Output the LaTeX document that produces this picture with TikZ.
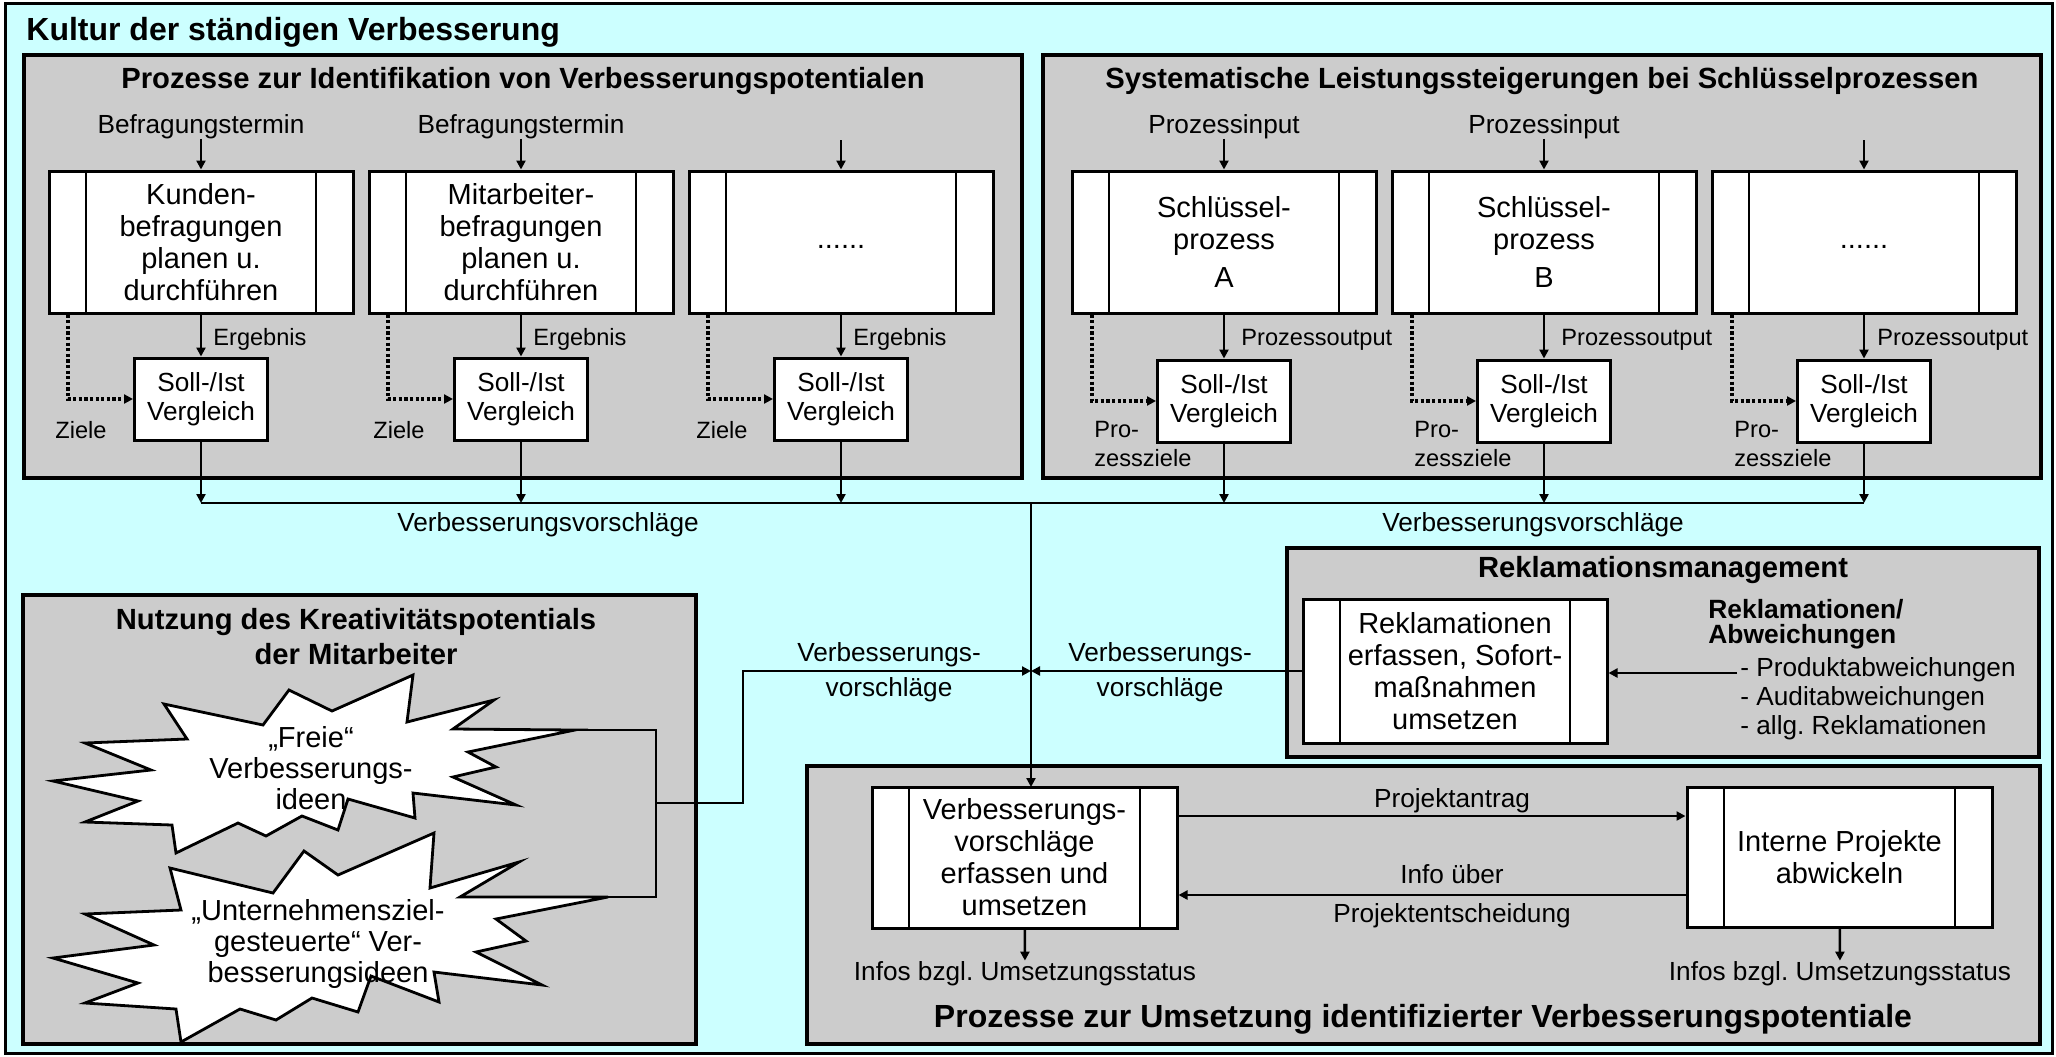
\documentclass[tikz,border=0pt]{standalone}
\usepackage{fontspec}
\setmainfont{Liberation Sans}
\usetikzlibrary{arrows.meta}
\definecolor{hellcyan}{RGB}{204,255,255}
\definecolor{hellgrau}{RGB}{204,204,204}
\frenchspacing
\tikzset{
  rahmen/.style={draw,line width=1.6pt,fill=hellgrau},
  stern/.style={draw,line width=1.4pt,fill=white},
  prozess/.style={draw,line width=1.5pt,fill=white,inner sep=0pt,align=center,
    minimum width=152pt,minimum height=71pt,font=\fontsize{14.5pt}{16pt}\selectfont,
    path picture={\draw[line width=1.2pt]
      ([xshift=18.5pt]path picture bounding box.north west) -- ([xshift=18.5pt]path picture bounding box.south west)
      ([xshift=-18.5pt]path picture bounding box.north east) -- ([xshift=-18.5pt]path picture bounding box.south east);}},
  vergleich/.style={draw,line width=1.5pt,fill=white,inner sep=0pt,align=center,
    minimum width=66.5pt,minimum height=41pt,font=\fontsize{13.1pt}{14.5pt}\selectfont},
  sterntext/.style={inner sep=0pt,align=center,font=\fontsize{14.5pt}{15.5pt}\selectfont},
  titel/.style={inner sep=0pt,font=\fontsize{16pt}{18pt}\selectfont\bfseries},
  kopf/.style={inner sep=0pt,align=center,font=\fontsize{14.6pt}{17.5pt}\selectfont\bfseries},
  lbl/.style={inner sep=0pt,font=\fontsize{13.1pt}{17.5pt}\selectfont},
  lblk/.style={inner sep=0pt,align=left,font=\fontsize{11.8pt}{14.5pt}\selectfont},
  linie/.style={line width=1.2pt},
  pfeil/.style={line width=1.2pt,-{Triangle[length=4.5pt,width=4.5pt]}},
  ziellinie/.style={line width=1.6pt,dash pattern=on 1.6pt off 1.2pt,-{Triangle[length=4.5pt,width=4.5pt]}}
}
\begin{document}
\frenchspacing
\begin{tikzpicture}[x=0.5pt,y=-0.5pt]
\useasboundingbox (0,0) rectangle (2056,1056);
\draw[line width=1.5pt,fill=hellcyan] (5,3) rectangle (2052,1053);
\node[titel,anchor=base west] (titel) at (26,40) {Kultur der ständigen Verbesserung};

% Prozesse zur Identifikation
\draw[rahmen] (24,55) rectangle (1022,478);
\node[kopf,anchor=base] (kopfA) at (523,88) {Prozesse zur Identifikation von Verbesserungspotentialen};
\node[lbl,anchor=base] (termin1) at (201,133) {Befragungstermin};
\node[lbl,anchor=base] (termin2) at (521,133) {Befragungstermin};
\coordinate (termin3) at (841,140);
\node[prozess] (ident1) at (201,242) {Kunden-\\befragungen\\planen u.\\durchführen};
\node[prozess] (ident2) at (521,242) {Mitarbeiter-\\befragungen\\planen u.\\durchführen};
\node[prozess] (ident3) at (841,242) {\strut......};
\node[vergleich] (vgl1) at (201,399) {Soll-/Ist\\Vergleich};
\node[vergleich] (vgl2) at (521,399) {Soll-/Ist\\Vergleich};
\node[vergleich] (vgl3) at (841,399) {Soll-/Ist\\Vergleich};
\node[lblk,anchor=base west] (erg1) at (213,345) {Ergebnis};
\node[lblk,anchor=base west] (erg2) at (533,345) {Ergebnis};
\node[lblk,anchor=base west] (erg3) at (853,345) {Ergebnis};
\node[lblk,anchor=base] (ziele1) at (81,438) {Ziele};
\node[lblk,anchor=base] (ziele2) at (399,438) {Ziele};
\node[lblk,anchor=base] (ziele3) at (722,438) {Ziele};
\draw[pfeil] (termin1) -- (ident1);
\draw[pfeil] (termin2) -- (ident2);
\draw[pfeil] (termin3) -- (ident3);
\draw[pfeil] (ident1) -- (vgl1);
\draw[pfeil] (ident2) -- (vgl2);
\draw[pfeil] (ident3) -- (vgl3);
\draw[ziellinie] ([xshift=-66.5pt]ident1.south) |- (vgl1);
\draw[ziellinie] ([xshift=-66.5pt]ident2.south) |- (vgl2);
\draw[ziellinie] ([xshift=-66.5pt]ident3.south) |- (vgl3);

% Schluesselprozesse
\draw[rahmen] (1043,55) rectangle (2041,478);
\node[kopf,anchor=base] (kopfB) at (1542,88) {Systematische Leistungssteigerungen bei Schlüsselprozessen};
\node[lbl,anchor=base] (input1) at (1224,133) {Prozessinput};
\node[lbl,anchor=base] (input2) at (1544,133) {Prozessinput};
\coordinate (input3) at (1864,140);
\node[prozess] (schl1) at (1224,242) {Schlüssel-\\prozess\\[3pt]A};
\node[prozess] (schl2) at (1544,242) {Schlüssel-\\prozess\\[3pt]B};
\node[prozess] (schl3) at (1864,242) {\strut......};
\node[vergleich] (svgl1) at (1224,401) {Soll-/Ist\\Vergleich};
\node[vergleich] (svgl2) at (1544,401) {Soll-/Ist\\Vergleich};
\node[vergleich] (svgl3) at (1864,401) {Soll-/Ist\\Vergleich};
\node[lblk,anchor=base west] (output1) at (1241,345) {Prozessoutput};
\node[lblk,anchor=base west] (output2) at (1561,345) {Prozessoutput};
\node[lblk,anchor=base west] (output3) at (1877,345) {Prozessoutput};
\node[lblk,anchor=west] (pziel1) at (1094,444) {Pro-\\zessziele};
\node[lblk,anchor=west] (pziel2) at (1414,444) {Pro-\\zessziele};
\node[lblk,anchor=west] (pziel3) at (1734,444) {Pro-\\zessziele};
\draw[pfeil] (input1) -- (schl1);
\draw[pfeil] (input2) -- (schl2);
\draw[pfeil] (input3) -- (schl3);
\draw[pfeil] (schl1) -- (svgl1);
\draw[pfeil] (schl2) -- (svgl2);
\draw[pfeil] (schl3) -- (svgl3);
\draw[ziellinie] ([xshift=-66pt]schl1.south) |- (svgl1);
\draw[ziellinie] ([xshift=-66pt]schl2.south) |- (svgl2);
\draw[ziellinie] ([xshift=-66pt]schl3.south) |- (svgl3);

% Sammelleitung
\coordinate (sammel) at (1031,503);
\draw[linie] (vgl1 |- sammel) -- (svgl3 |- sammel);
\draw[pfeil] (vgl1) -- (vgl1 |- sammel);
\draw[pfeil] (vgl2) -- (vgl2 |- sammel);
\draw[pfeil] (vgl3) -- (vgl3 |- sammel);
\draw[pfeil] (svgl1) -- (svgl1 |- sammel);
\draw[pfeil] (svgl2) -- (svgl2 |- sammel);
\draw[pfeil] (svgl3) -- (svgl3 |- sammel);
\node[lbl,anchor=base] (vorschlag1) at (548,531) {Verbesserungsvorschläge};
\node[lbl,anchor=base] (vorschlag2) at (1533,531) {Verbesserungsvorschläge};

% Reklamationsmanagement
\draw[rahmen] (1287,548) rectangle (2039,757);
\node[kopf,anchor=base] (kopfR) at (1663,577) {Reklamationsmanagement};
\node[prozess,minimum height=72pt] (rek) at (1455,671) {Reklamationen\\erfassen, Sofort-\\maßnahmen\\umsetzen};
\node[lbl,align=left,anchor=west,font=\fontsize{13.2pt}{12.5pt}\selectfont\bfseries] (rekart) at (1708,624) {Reklamationen/\\Abweichungen};
\node[lbl,align=left,anchor=west,font=\fontsize{13.1pt}{14.5pt}\selectfont] (rekliste) at (1740,699) {- Produktabweichungen\\- Auditabweichungen\\- allg. Reklamationen};
\coordinate (rekein) at (1737,673);
\draw[pfeil] (rekein) -- (rekein -| rek.east);
\draw[pfeil] (rek.west) -- (rek.west -| sammel);
\node[lbl,align=center] (vorschlagR) at (1160,672) {Verbesserungs-\\vorschläge};

% Kreativitaetspotential
\draw[rahmen] (23,595) rectangle (696,1044);
\node[kopf] (kopfN) at (356,637) {Nutzung des Kreativitätspotentials\\der Mitarbeiter};
\draw[stern] (164,704) -- (263,725) -- (289,690) -- (332,711) -- (413,675) -- (407,722) -- (494,700) -- (453,729) -- (575,730) -- (468,752) -- (496,767) -- (453,777) -- (516,805) -- (413,793) -- (415,818) -- (348,799) -- (338,830) -- (302,816) -- (266,836) -- (238,823) -- (176,853) -- (172,825) -- (85,822) -- (138,801) -- (53,781) -- (151,770) -- (85,743) -- (187,739) -- cycle;
\draw[stern] (170,868) -- (273,893) -- (304,851) -- (338,875) -- (434,833) -- (430,888) -- (519,862) -- (460,897) -- (608,897) -- (496,919) -- (526,941) -- (476,952) -- (542,985) -- (434,972) -- (439,1002) -- (371,976) -- (358,1012) -- (312,998) -- (276,1020) -- (240,1009) -- (181,1042) -- (176,1009) -- (85,1003) -- (138,983) -- (53,958) -- (154,945) -- (85,914) -- (181,910) -- cycle;
\node[sterntext] (freie) at (311,768) {„Freie“\\Verbesserungs-\\ideen};
\node[sterntext] (zielgest) at (318,944) {„Unternehmensziel-\\gesteuerte“ Ver-\\besserungsideen};
\coordinate (spitze1) at (575,730);
\coordinate (spitze2) at (608,897);
\coordinate (knoten) at (656,803);
\draw[linie] (spitze1) -| (knoten) |- (spitze2);
\draw[pfeil] (knoten) -- ++(87,0) |- (rek.west -| sammel);
\node[lbl,align=center] (vorschlagL) at (889,672) {Verbesserungs-\\vorschläge};

% Umsetzung
\draw[rahmen] (807,766) rectangle (2040,1044);
\draw[pfeil] (sammel) -- (sammel |- 0,787);
\node[prozess,minimum width=152.5pt,minimum height=70.5pt] (vv) at (1024.5,857.5) {Verbesserungs-\\vorschläge\\erfassen und\\umsetzen};
\node[prozess,minimum width=152.5pt,minimum height=70pt] (ip) at (1839.5,857) {Interne Projekte\\abwickeln};
\coordinate (antrag) at (1177,816);
\coordinate (info) at (1687,895);
\draw[pfeil] (antrag) -- (antrag -| ip.west);
\draw[pfeil] (info) -- (info -| vv.east);
\node[lbl,anchor=base] (antragtxt) at (1452,807) {Projektantrag};
\node[lbl,anchor=base] (infotxt1) at (1452,883) {Info über};
\node[lbl,anchor=base] (infotxt2) at (1452,922) {Projektentscheidung};
\node[lbl,anchor=base] (status1) at (1025,980) {Infos bzgl. Umsetzungsstatus};
\node[lbl,anchor=base] (status2) at (1840,980) {Infos bzgl. Umsetzungsstatus};
\draw[pfeil] (vv) -- (status1);
\draw[pfeil] (ip) -- (status2);
\node[titel,anchor=base] (kopfU) at (1423,1027) {Prozesse zur Umsetzung identifizierter Verbesserungspotentiale};
\end{tikzpicture}
\end{document}
